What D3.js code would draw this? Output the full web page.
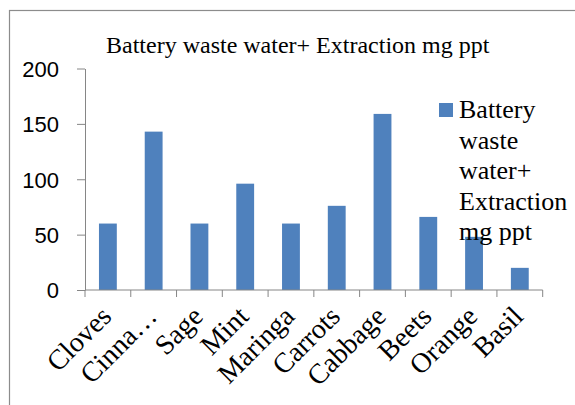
<!DOCTYPE html>
<html><head><meta charset="utf-8">
<script src="https://cdn.jsdelivr.net/npm/d3@7"></script>
<style>body{margin:0;background:#fff}svg{display:block}</style>
</head><body>
<svg id="c" width="575" height="405"></svg>
<script>
const categories = ["Cloves","Cinna…","Sage","Mint","Maringa","Carrots","Cabbage","Beets","Orange","Basil"];
const values = [60,143,60,96,60,76,159,66,48,20];
const yTicks = [0,50,100,150,200];
const seriesName = "Battery waste water+ Extraction mg ppt";
const legendLines = ["Battery","waste","water+","Extraction","mg ppt"];

const svg = d3.select("#c");
const serif = "'Liberation Serif','Times New Roman',serif";
const sans = "'Liberation Sans',Arial,sans-serif";

svg.append("rect").attr("x",9.5).attr("y",10.5).attr("width",600).attr("height",500)
  .attr("fill","none").attr("stroke","#8c8c8c").attr("stroke-width",1.2);

const x = d3.scaleBand().domain(categories).range([85,542.7]).paddingInner(0.61).paddingOuter(0.305);
const y = d3.scaleLinear().domain([0,200]).range([290,68.5]);

svg.selectAll("rect.bar").data(values).join("rect").attr("class","bar")
  .attr("x",(d,i)=>x(categories[i])).attr("width",x.bandwidth())
  .attr("y",d=>y(d)).attr("height",d=>y(0)-y(d))
  .attr("fill","#4F81BD");

const ya = svg.append("g").attr("transform","translate(85,0)")
  .call(d3.axisLeft(y).tickValues(yTicks).tickSize(8).tickSizeOuter(0).tickPadding(18));
ya.select(".domain").attr("stroke","#868686");
ya.selectAll(".tick line").attr("stroke","#868686");
ya.selectAll(".tick text").attr("font-family",sans).attr("font-size",22).attr("fill","#000").attr("dy","0.36em");

const step = x.step();
const xa = svg.append("g");
xa.append("line").attr("x1",85).attr("x2",542.7).attr("y1",290).attr("y2",290).attr("stroke","#868686");
xa.selectAll("line.t").data(d3.range(categories.length+1)).join("line").attr("class","t")
  .attr("x1",i=>85+i*step).attr("x2",i=>85+i*step).attr("y1",290).attr("y2",297).attr("stroke","#868686");
xa.selectAll("text").data(categories).join("text")
  .attr("transform",d=>`translate(${x(d)+x.bandwidth()/2+5},${318}) rotate(-45)`)
  .attr("text-anchor","end").attr("font-family",serif).attr("font-size",28).attr("fill","#000")
  .text(d=>d);

svg.append("text").attr("x",106).attr("y",53).attr("font-family",serif).attr("font-size",24)
  .attr("fill","#000").text(seriesName);

svg.append("rect").attr("x",439).attr("y",103).attr("width",14).attr("height",14).attr("fill","#4F81BD");
svg.append("g").selectAll("text").data(legendLines).join("text")
  .attr("x",459).attr("y",(d,i)=>118+i*30.5).attr("font-family",serif).attr("font-size",26)
  .attr("fill","#000").text(d=>d);
</script>
</body></html>
